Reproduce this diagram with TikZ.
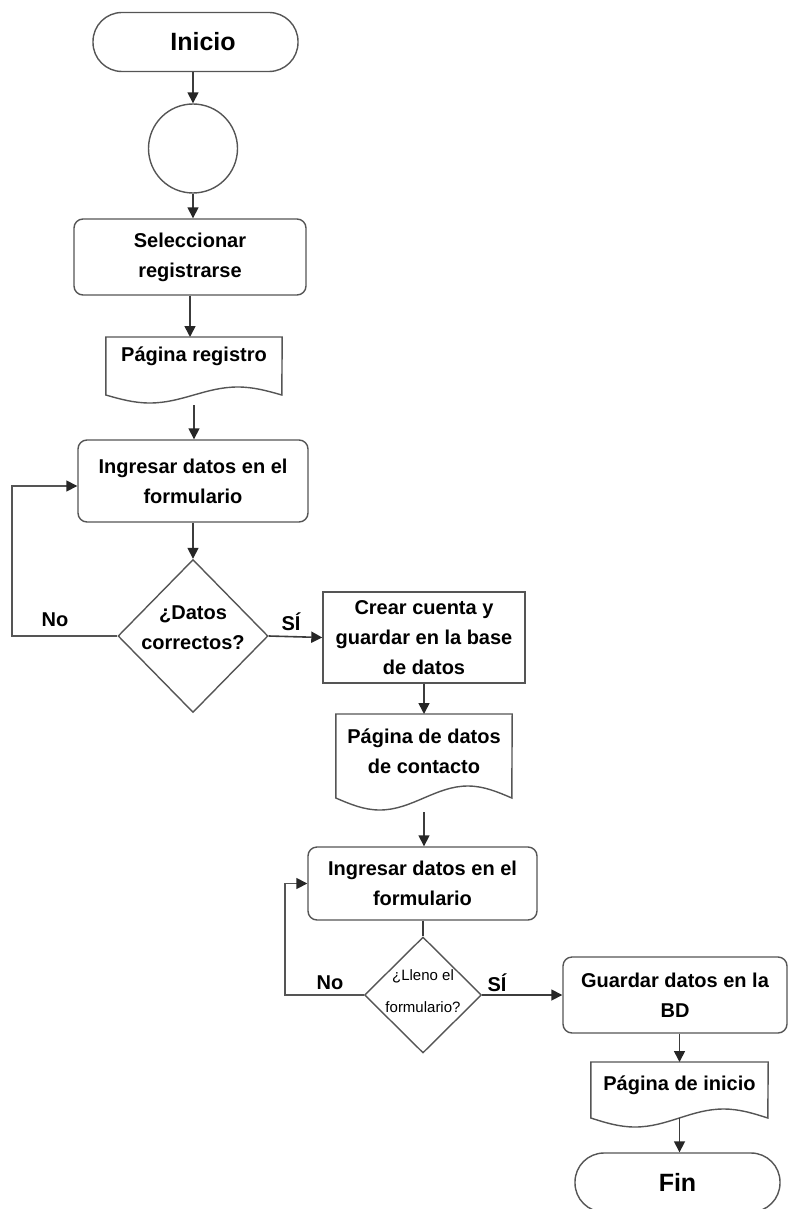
\documentclass[tikz,border=0pt]{standalone}
\usepackage{fontspec}
\setmainfont{Liberation Sans}
\usetikzlibrary{shapes.geometric,arrows.meta,calc}

\definecolor{outline}{RGB}{85,85,85}
\definecolor{wire}{RGB}{60,60,60}

\tikzset{
  base/.style={draw=outline, line width=1.4pt, align=center, inner sep=0pt,
               font=\bfseries\fontsize{20}{30}\selectfont},
  terminal/.style={base, rounded corners=29pt, minimum width=205pt, minimum height=59pt,
                   font=\bfseries\fontsize{25}{30}\selectfont},
  connector/.style={base, circle, minimum size=89pt},
  process/.style={base, rounded corners=9pt},
  plainbox/.style={base},
  decision/.style={base, diamond},
  docarea/.style={draw=none, align=center, inner sep=0pt,
                  font=\bfseries\fontsize{20}{30}\selectfont},
  docline/.style={draw=outline, line width=1.4pt},
  tip/.style={-{Triangle[length=11pt,width=11pt,color=black!85]}},
  flow/.style={draw=wire, line width=1.6pt, tip},
  plainflow/.style={draw=wire, line width=1.6pt},
  loop/.style={draw=outline, line width=1.6pt, tip},
  tag/.style={font=\bfseries\fontsize{20}{24}\selectfont, inner sep=0pt}
}

\begin{document}
\begin{tikzpicture}[x=1pt, y=-1pt]
\useasboundingbox (0,0) rectangle (789,1209);
\clip (0,0) rectangle (789,1209);

% upper column
\node[terminal] (inicio) at (195.5,42) {\hspace*{15pt}Inicio};
\node[connector] (circ) at (193,148.5) {};
\node[process, minimum width=232pt, minimum height=76pt] (sel) at (190,257)
  {Seleccionar\\registrarse};

% document: Página registro
\node[docarea, minimum width=176pt, minimum height=38pt, anchor=north] (doc1) at (194,337)
  {Página registro};
\draw[docline] (doc1.north east) -- (doc1.north west) -- ++(0,58)
  sin ++(44,8) cos ++(44,-8) sin ++(44,-8) cos ++(44,8) -- cycle;
\path (doc1.north) ++(0,68) coordinate (doc1b);

\node[process, minimum width=230pt, minimum height=82pt] (ing1) at (193,481)
  {Ingresar datos en el\\formulario};

\node[decision, minimum width=150pt, minimum height=153pt,
      label={[align=center, font=\bfseries\fontsize{20}{30}\selectfont, yshift=8pt]center:¿Datos\\correctos?}]
  (d1) at (193,636) {};

\node[plainbox, minimum width=202pt, minimum height=91pt] (crear) at (424,637.5)
  {Crear cuenta y\\guardar en la base\\de datos};

% document: Página de datos de contacto
\node[docarea, minimum width=176pt, minimum height=74pt, anchor=north] (doc2) at (424,714)
  {Página de datos\\de contacto};
\draw[docline] (doc2.north east) -- (doc2.north west) -- ++(0,84)
  sin ++(44,12) cos ++(44,-12) sin ++(44,-12) cos ++(44,12) -- cycle;
\path (doc2.north) ++(0,98) coordinate (doc2b);

\node[process, minimum width=229pt, minimum height=73pt] (ing2) at (422.5,883.5)
  {Ingresar datos en el\\formulario};

\node[decision, minimum width=117pt, minimum height=116pt,
      label={[align=center, font=\fontsize{15}{32}\selectfont, yshift=4pt]center:¿Lleno el\\formulario?}]
  (d2) at (423,995) {};

\node[process, minimum width=224pt, minimum height=76pt] (guar) at (675,995)
  {Guardar datos en la\\BD};

% document: Página de inicio
\node[docarea, minimum width=177pt, minimum height=46pt, anchor=north] (doc3) at (679.5,1062)
  {Página de inicio};
\draw[docline] (doc3.north east) -- (doc3.north west) -- ++(0,56)
  sin ++(44.25,9) cos ++(44.25,-9) sin ++(44.25,-9) cos ++(44.25,9) -- cycle;
\path (doc3.north) ++(0,56) coordinate (doc3b);

\node[terminal] (fin) at (677.5,1182.5) {Fin};

% branch labels
\node[tag] (no1) at (55,620) {No};
\node[tag] (si1) at (291,622) {SÍ};
\node[tag] (no2) at (330,983) {No};
\node[tag] (si2) at (497,983) {SÍ};

% connectors
\draw[flow] (circ.north |- inicio.south) -- (circ.north);
\draw[flow] (circ.south) -- (circ.south |- sel.north);
\draw[flow] (sel.south) -- (sel.south |- doc1.north);
\draw[flow] (doc1b) -- (doc1b |- ing1.north);
\draw[flow] (ing1.south) -- (d1.north);
\draw[loop] (d1.west) -- (12,636) |- ([yshift=-5pt]ing1.west);
\draw[flow] (d1.east) -- (crear.west);
\draw[flow] (crear.south) -- (crear.south |- doc2.north);
\draw[flow] (doc2b) -- (doc2b |- ing2.north);
\draw[plainflow] (ing2.south -| d2.north) -- (d2.north);
\draw[loop] (d2.west) -- (285,995) |- (ing2.west);
\draw[flow] (d2.east) -- (guar.west);
\draw[flow] (doc3.north |- guar.south) -- (doc3.north);
\draw[flow] (doc3b) -- (doc3b |- fin.north);
\end{tikzpicture}
\end{document}
